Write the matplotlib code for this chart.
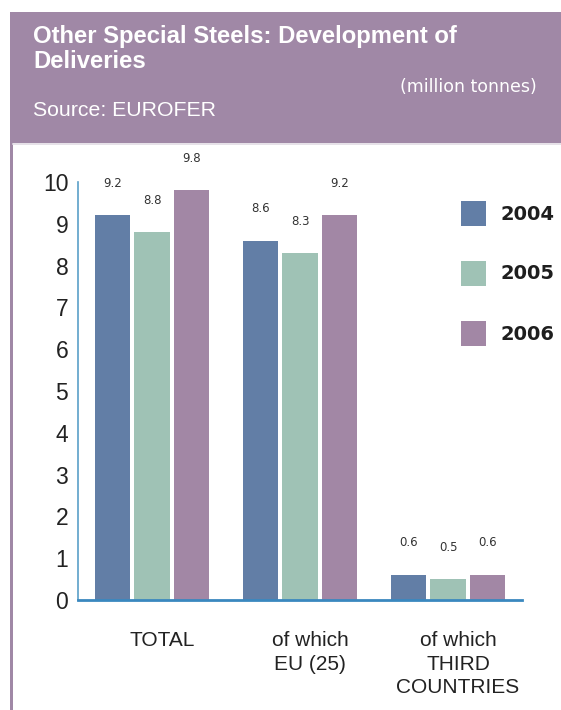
import numpy as np
import matplotlib.pyplot as plt
import matplotlib.transforms as mtransforms
from matplotlib.patches import Rectangle
from matplotlib.lines import Line2D

# deliveries in million tonnes
categories = ["TOTAL", "of which\nEU (25)", "of which\nTHIRD\nCOUNTRIES"]
years = ["2004", "2005", "2006"]
vals_2004 = [9.2, 8.6, 0.6]
vals_2005 = [8.8, 8.3, 0.5]
vals_2006 = [9.8, 9.2, 0.6]

colors = ["#627ea6", "#9fc2b5", "#a287a5"]
header_col = "#a088a6"

W, H = 561, 710
fig = plt.figure(figsize=(W / 100, H / 100), dpi=100)


def fy(py):
    # pixel row from top -> figure fraction
    return 1 - py / H


# header band + left border
fig.add_artist(Rectangle((10 / W, fy(143)), 1 - 10 / W, 131 / H,
                         transform=fig.transFigure, color=header_col, lw=0))
fig.add_artist(Rectangle((10 / W, 0), 3 / W, fy(143),
                         transform=fig.transFigure, color=header_col, lw=0))
fig.add_artist(Line2D([13 / W, 1], [fy(144)] * 2, transform=fig.transFigure,
                      color="#e2dbe4", lw=1.2))

fig.text(33 / W, fy(43.5), "Other Special Steels: Development of",
         color="white", fontsize=17.2, fontweight="bold", va="baseline",
         family="Liberation Sans")
fig.text(33 / W, fy(68), "Deliveries",
         color="white", fontsize=17.2, fontweight="bold", va="baseline",
         family="Liberation Sans")
fig.text(537 / W, fy(91.7), "(million tonnes)", color="white", fontsize=12.5,
         ha="right", va="baseline", family="DejaVu Sans")
fig.text(33 / W, fy(116), "Source: EUROFER", color="white", fontsize=15.3,
         va="baseline", family="Liberation Sans")

ax = fig.add_axes([78 / W, 110 / H, 444 / W, 418 / H])

x = np.arange(len(categories))
w = 0.243
off = 0.267
series = [vals_2004, vals_2005, vals_2006]
for i, (vals, c) in enumerate(zip(series, colors)):
    bars = ax.bar(x + (i - 1) * off, vals, width=w, color=c, zorder=2)
    for b, v in zip(bars, vals):
        ax.annotate(f"{v:.1f}", (b.get_x() + b.get_width() / 2, v),
                    xytext=(0, 23), textcoords="offset points",
                    ha="center", va="center", fontsize=8.5, color="#333333")

ax.set_xlim(-0.5, 2.5)
ax.set_ylim(0, 10)
ax.set_yticks(range(0, 11))
ax.set_yticklabels([str(t) for t in range(0, 11)], fontsize=16.5,
                   family="Liberation Sans", color="#222222")
ax.set_xticks(x)
ax.set_xticklabels(categories, fontsize=15, family="Liberation Sans",
                   color="#222222", va="top", linespacing=1.33)
ax.tick_params(axis="y", length=0, pad=7)
ax.tick_params(axis="x", length=0, pad=22)

# category labels sit a little right of the group centres
shift = mtransforms.ScaledTranslation(0.10, 0, fig.dpi_scale_trans)
for lbl in ax.get_xticklabels():
    lbl.set_transform(lbl.get_transform() + shift)

for s in ["top", "right"]:
    ax.spines[s].set_visible(False)
ax.spines["left"].set_color("#5aa0c8")
ax.spines["left"].set_linewidth(1.2)
ax.spines["bottom"].set_color("#3a88bf")
ax.spines["bottom"].set_linewidth(2)
ax.spines["bottom"].set_zorder(3)

# legend
for i, (yr, c) in enumerate(zip(years, colors)):
    ytop = 201 + 60 * i
    fig.add_artist(Rectangle((461 / W, fy(ytop + 25)), 25 / W, 25 / H,
                             transform=fig.transFigure, color=c, lw=0))
    fig.text(501 / W, fy(ytop + 13), yr, fontsize=14, fontweight="bold",
             va="center", color="#1e1e1e", family="DejaVu Sans")

fig.savefig("out.png", dpi=100)
